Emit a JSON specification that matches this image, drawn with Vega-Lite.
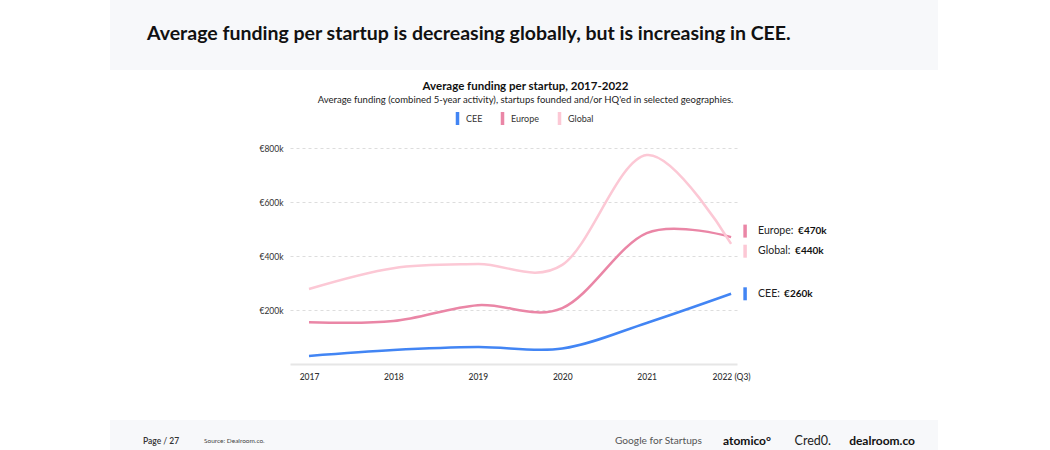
{
  "$schema": "https://vega.github.io/schema/vega-lite/v6.json",
  "background": "white",
  "padding": {"left": 110, "right": 112, "top": 0, "bottom": 0},
  "spacing": 11,
  "resolve": {"scale": {"color": "independent"}, "legend": {"color": "independent"}},
  "config": {
    "font": "Lato",
    "view": {"stroke": null}
  },
  "datasets": {
    "funding": [
      {"year": 2017, "region": "CEE", "funding": 30000},
      {"year": 2018, "region": "CEE", "funding": 52000},
      {"year": 2019, "region": "CEE", "funding": 63000},
      {"year": 2020, "region": "CEE", "funding": 57000},
      {"year": 2021, "region": "CEE", "funding": 152000},
      {"year": 2022, "region": "CEE", "funding": 260000},
      {"year": 2017, "region": "Europe", "funding": 155000},
      {"year": 2018, "region": "Europe", "funding": 159000},
      {"year": 2019, "region": "Europe", "funding": 218000},
      {"year": 2020, "region": "Europe", "funding": 207000},
      {"year": 2021, "region": "Europe", "funding": 485000},
      {"year": 2022, "region": "Europe", "funding": 470000},
      {"year": 2017, "region": "Global", "funding": 278000},
      {"year": 2018, "region": "Global", "funding": 355000},
      {"year": 2019, "region": "Global", "funding": 370000},
      {"year": 2020, "region": "Global", "funding": 367000},
      {"year": 2021, "region": "Global", "funding": 774000},
      {"year": 2022, "region": "Global", "funding": 445000}
    ],
    "labels": [
      {"year": 2022, "region": "Europe", "funding": 470000, "name": "Europe:", "amount": "€470k"},
      {"year": 2022, "region": "Global", "funding": 440000, "name": "Global:", "amount": "€440k"},
      {"year": 2022, "region": "CEE", "funding": 260000, "name": "CEE:", "amount": "€260k"}
    ],
    "footer": [
      {"page": "Page / 27", "source": "Source:  Dealroom.co.", "google": "Google for Startups", "atomico": "atomico°", "credo": "Cred0.", "dealroom": "dealroom.co"}
    ]
  },
  "vconcat": [
    {
      "width": 828,
      "height": 70,
      "view": {"fill": "#f7f8fa", "stroke": null},
      "title": {
        "text": "Average funding per startup is decreasing globally, but is increasing in CEE.",
        "orient": "top",
        "anchor": "start",
        "frame": "group",
        "dx": 37,
        "offset": -44,
        "fontSize": 19.5,
        "fontWeight": "bold",
        "font": "Lato",
        "color": "#111111"
      },
      "data": {"values": []},
      "mark": "rect"
    },
    {
      "spacing": 39,
      "resolve": {"scale": {"color": "independent"}, "legend": {"color": "independent"}},
      "vconcat": [
        {
          "spacing": 0,
          "resolve": {"scale": {"color": "independent"}, "legend": {"color": "independent"}},
          "hconcat": [
            {
              "width": 148,
              "height": 200,
              "data": {"values": []},
              "mark": "rect"
            },
            {
              "width": 447,
              "height": 216,
              "title": {
                "text": "Average funding per startup, 2017-2022",
                "subtitle": "Average funding (combined 5-year activity), startups founded and/or HQ'ed in selected geographies.",
                "anchor": "middle",
                "frame": "group",
                "dx": 12,
                "fontSize": 11.5,
                "fontWeight": "bold",
                "color": "#111111",
                "subtitleFontSize": 9.5,
                "subtitleColor": "#222222",
                "subtitlePadding": 2,
                "offset": 8
              },
              "layer": [
                {
                  "data": {"name": "labels"},
                  "transform": [{"filter": "datum.region === 'Europe'"}],
                  "mark": {"type": "point", "filled": true, "opacity": 1, "shape": "M-0.27,-1H0.27V1H-0.27Z", "size": 169, "xOffset": 14, "yOffset": -6},
                  "encoding": {
                    "x": {"field": "year", "type": "quantitative"},
                    "y": {"field": "funding", "type": "quantitative"},
                    "color": {"field": "region", "type": "nominal"}
                  }
                },
                {
                  "data": {"name": "labels"},
                  "transform": [{"filter": "datum.region === 'Global'"}],
                  "mark": {"type": "point", "filled": true, "opacity": 1, "shape": "M-0.27,-1H0.27V1H-0.27Z", "size": 169, "xOffset": 14, "yOffset": 6},
                  "encoding": {
                    "x": {"field": "year", "type": "quantitative"},
                    "y": {"field": "funding", "type": "quantitative"},
                    "color": {"field": "region", "type": "nominal"}
                  }
                },
                {
                  "data": {"name": "labels"},
                  "transform": [{"filter": "datum.region === 'CEE'"}],
                  "mark": {"type": "point", "filled": true, "opacity": 1, "shape": "M-0.27,-1H0.27V1H-0.27Z", "size": 169, "xOffset": 14, "yOffset": 0},
                  "encoding": {
                    "x": {"field": "year", "type": "quantitative"},
                    "y": {"field": "funding", "type": "quantitative"},
                    "color": {"field": "region", "type": "nominal"}
                  }
                },
                {
                  "data": {"name": "funding"},
                  "mark": {"type": "line", "interpolate": "cardinal", "strokeWidth": 2.5},
                  "encoding": {
                    "x": {
                      "field": "year", "type": "quantitative",
                      "scale": {"domain": [2016.775, 2022.07], "nice": false, "zero": false},
                      "axis": {
                        "title": null, "values": [2017, 2018, 2019, 2020, 2021, 2022],
                        "labelExpr": "datum.value == 2022 ? '2022 (Q3)' : datum.value",
                        "grid": false, "ticks": false, "domain": true, "domainColor": "#e6e6e6", "domainWidth": 2,
                        "labelFontSize": 8.5, "labelColor": "#333333", "labelPadding": 8, "labelFontWeight": 500
                      }
                    },
                    "y": {
                      "field": "funding", "type": "quantitative",
                      "scale": {"domain": [0, 800000], "nice": false},
                      "axis": {
                        "title": null,
                        "values": [200000, 400000, 600000, 800000],
                        "labelExpr": "'€' + (datum.value / 1000) + 'k'",
                        "domain": false, "ticks": false, "grid": true,
                        "gridDash": [3, 3], "gridColor": "#dddddd", "gridWidth": 1,
                        "labelFontSize": 8.5, "labelColor": "#333333", "labelPadding": 7
                      }
                    },
                    "color": {
                      "field": "region", "type": "nominal",
                      "scale": {"domain": ["CEE", "Europe", "Global"], "range": ["#4285f4", "#ea86a6", "#fcc8d5"]},
                      "legend": {
                        "title": null, "orient": "none", "direction": "horizontal",
                        "legendX": 161, "legendY": -36,
                        "symbolType": "M-0.27,-1H0.27V1H-0.27Z", "symbolSize": 169, "symbolStrokeWidth": 0,
                        "labelFontSize": 9, "labelColor": "#333333", "labelOffset": 2, "columnPadding": 13
                      }
                    }
                  }
                },
                {
                  "data": {"name": "labels"},
                  "transform": [{"filter": "datum.region === 'Europe'"}],
                  "mark": {"type": "text", "align": "left", "baseline": "middle", "dx": 27, "dy": -6, "fontSize": 10.5, "color": "#222222"},
                  "encoding": {
                    "x": {"field": "year", "type": "quantitative"},
                    "y": {"field": "funding", "type": "quantitative"},
                    "text": {"field": "name"}
                  }
                },
                {
                  "data": {"name": "labels"},
                  "transform": [{"filter": "datum.region === 'Europe'"}],
                  "mark": {"type": "text", "align": "left", "baseline": "middle", "dx": 67, "dy": -6, "fontSize": 10, "fontWeight": "bold", "color": "#111111"},
                  "encoding": {
                    "x": {"field": "year", "type": "quantitative"},
                    "y": {"field": "funding", "type": "quantitative"},
                    "text": {"field": "amount"}
                  }
                },
                {
                  "data": {"name": "labels"},
                  "transform": [{"filter": "datum.region === 'Global'"}],
                  "mark": {"type": "text", "align": "left", "baseline": "middle", "dx": 27, "dy": 6, "fontSize": 10.5, "color": "#222222"},
                  "encoding": {
                    "x": {"field": "year", "type": "quantitative"},
                    "y": {"field": "funding", "type": "quantitative"},
                    "text": {"field": "name"}
                  }
                },
                {
                  "data": {"name": "labels"},
                  "transform": [{"filter": "datum.region === 'Global'"}],
                  "mark": {"type": "text", "align": "left", "baseline": "middle", "dx": 64, "dy": 6, "fontSize": 10, "fontWeight": "bold", "color": "#111111"},
                  "encoding": {
                    "x": {"field": "year", "type": "quantitative"},
                    "y": {"field": "funding", "type": "quantitative"},
                    "text": {"field": "amount"}
                  }
                },
                {
                  "data": {"name": "labels"},
                  "transform": [{"filter": "datum.region === 'CEE'"}],
                  "mark": {"type": "text", "align": "left", "baseline": "middle", "dx": 27, "dy": 0, "fontSize": 10.5, "color": "#222222"},
                  "encoding": {
                    "x": {"field": "year", "type": "quantitative"},
                    "y": {"field": "funding", "type": "quantitative"},
                    "text": {"field": "name"}
                  }
                },
                {
                  "data": {"name": "labels"},
                  "transform": [{"filter": "datum.region === 'CEE'"}],
                  "mark": {"type": "text", "align": "left", "baseline": "middle", "dx": 53, "dy": 0, "fontSize": 10, "fontWeight": "bold", "color": "#111111"},
                  "encoding": {
                    "x": {"field": "year", "type": "quantitative"},
                    "y": {"field": "funding", "type": "quantitative"},
                    "text": {"field": "amount"}
                  }
                }
              ]
            }
          ]
        },
        {
          "width": 828,
          "height": 30,
          "view": {"fill": "#f7f8fa", "stroke": null},
          "data": {"name": "footer"},
          "layer": [
            {"mark": {"type": "text", "align": "left", "baseline": "middle", "dx": 33, "dy": 6, "fontSize": 8.5, "fontWeight": 600, "color": "#333333"},
             "encoding": {"x": {"value": 0}, "text": {"field": "page"}}},
            {"mark": {"type": "text", "align": "left", "baseline": "middle", "dx": 94, "dy": 6, "fontSize": 6.5, "color": "#444444"},
             "encoding": {"x": {"value": 0}, "text": {"field": "source"}}},
            {"mark": {"type": "text", "align": "right", "baseline": "middle", "dx": -236, "dy": 6, "fontSize": 10.2, "color": "#555555"},
             "encoding": {"x": {"value": "width"}, "text": {"field": "google"}}},
            {"mark": {"type": "text", "align": "right", "baseline": "middle", "dx": -167, "dy": 6, "fontSize": 12, "fontWeight": "bold", "color": "#111111"},
             "encoding": {"x": {"value": "width"}, "text": {"field": "atomico"}}},
            {"mark": {"type": "text", "align": "right", "baseline": "middle", "dx": -107, "dy": 6, "fontSize": 12.5, "color": "#222222"},
             "encoding": {"x": {"value": "width"}, "text": {"field": "credo"}}},
            {"mark": {"type": "text", "align": "right", "baseline": "middle", "dx": -23, "dy": 6, "fontSize": 12, "fontWeight": "bold", "color": "#111111"},
             "encoding": {"x": {"value": "width"}, "text": {"field": "dealroom"}}}
          ]
        }
      ]
    }
  ]
}
